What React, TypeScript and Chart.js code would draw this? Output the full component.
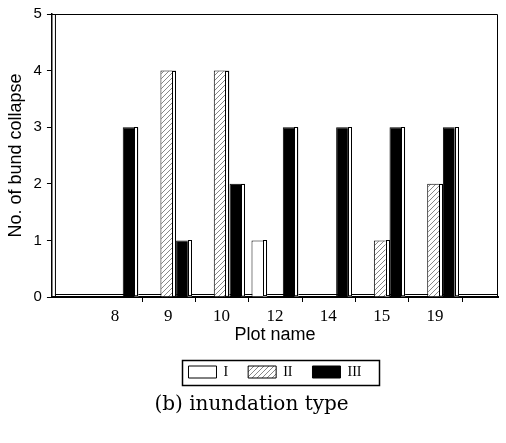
import React, { useEffect, useRef } from 'react';
import { Chart, registerables } from 'chart.js';

Chart.register(...registerables);

const plotNames = ['8', '9', '10', '12', '14', '15', '19'];
const typeI = [0, 0, 0, 1, 0, 0, 0];
const typeII = [0, 4, 4, 0, 0, 1, 2];
const typeIII = [3, 1, 2, 3, 3, 3, 3];
const seriesLabels = ['I', 'II', 'III'];
const yTickValues = [0, 1, 2, 3, 4, 5];

function makeHatch(): CanvasPattern | string {
  const c = document.createElement('canvas');
  c.width = 5;
  c.height = 5;
  const g = c.getContext('2d');
  if (!g) return '#ccc';
  g.fillStyle = '#ffffff';
  g.fillRect(0, 0, 5, 5);
  g.strokeStyle = '#888';
  g.lineWidth = 1;
  g.beginPath();
  g.moveTo(-1, 6);
  g.lineTo(6, -1);
  g.stroke();
  const p = g.createPattern(c, 'repeat');
  return p || '#ccc';
}

const framePlugin = {
  id: 'frame',
  beforeDatasetsDraw(chart: any) {
    const ctx = chart.ctx;
    const a = chart.chartArea;
    ctx.save();
    ctx.strokeStyle = '#000';
    ctx.lineWidth = 1;
    ctx.beginPath();
    ctx.moveTo(a.left + 3, Math.round(a.bottom - 3) + 0.5);
    ctx.lineTo(a.right, Math.round(a.bottom - 3) + 0.5);
    ctx.stroke();
    ctx.restore();
  },
  afterDatasetsDraw(chart: any) {
    const ctx = chart.ctx;
    const a = chart.chartArea;
    ctx.save();
    ctx.strokeStyle = '#000';
    ctx.lineWidth = 1;
    chart.data.datasets.forEach((_ds: any, di: number) => {
      const meta = chart.getDatasetMeta(di);
      meta.data.forEach((el: any) => {
        const { x, y, base, width } = el.getProps(['x', 'y', 'base', 'width'], true);
        if (Math.abs(base - y) < 0.5) return;
        const d = 4;
        const r = x + width / 2;
        ctx.fillStyle = '#fff';
        ctx.fillRect(r - d, y, d, base - y);
        ctx.strokeRect(Math.round(r - d) + 0.5, Math.round(y) + 0.5, d - 1, base - y - 1);
      });
    });
    ctx.beginPath();
    ctx.moveTo(a.left, a.top + 0.5);
    ctx.lineTo(a.right - 0.5, a.top + 0.5);
    ctx.lineTo(a.right - 0.5, a.bottom);
    ctx.stroke();
    ctx.beginPath();
    ctx.moveTo(a.left + 3.5, a.top);
    ctx.lineTo(a.left + 3.5, a.bottom);
    ctx.stroke();
    const xs = chart.scales.x;
    ctx.beginPath();
    for (let i = 0; i < plotNames.length; i++) {
      const px = Math.round(xs.getPixelForValue(i + 0.5)) + 0.5;
      ctx.moveTo(px, a.bottom);
      ctx.lineTo(px, a.bottom + 5);
    }
    ctx.stroke();
    ctx.restore();
  },
  afterDraw(chart: any) {
    const lg = chart.legend;
    if (!lg || !lg.legendHitBoxes || !lg.legendHitBoxes.length) return;
    const hb = lg.legendHitBoxes;
    let l = Infinity, r = -Infinity, t = Infinity, b = -Infinity;
    hb.forEach((h: any) => {
      l = Math.min(l, h.left);
      r = Math.max(r, h.left + h.width);
      t = Math.min(t, h.top);
      b = Math.max(b, h.top + h.height);
    });
    const ctx = chart.ctx;
    ctx.save();
    ctx.strokeStyle = '#000';
    ctx.lineWidth = 1.5;
    ctx.strokeRect(Math.round(l - 6) + 0.5, Math.round(t - 5) + 0.5, Math.round(r - l + 24), Math.round(b - t + 11));
    ctx.restore();
  },
};

export default function App() {
  const ref = useRef<HTMLCanvasElement>(null);

  useEffect(() => {
    if (!ref.current) return;
    const hatch = makeHatch();
    const toXY = (arr: number[]) => arr.map((v, i) => ({ x: i, y: v }));
    const chart = new Chart(ref.current, {
      type: 'bar',
      data: {
        datasets: [
          {
            label: seriesLabels[0],
            data: toXY(typeI) as any,
            backgroundColor: '#ffffff',
            borderColor: '#000',
            borderWidth: 1,
          },
          {
            label: seriesLabels[1],
            data: toXY(typeII) as any,
            backgroundColor: hatch as any,
            borderColor: '#000',
            borderWidth: 1,
          },
          {
            label: seriesLabels[2],
            data: toXY(typeIII) as any,
            backgroundColor: '#000000',
            borderColor: '#000',
            borderWidth: 1,
          },
        ],
      },
      options: {
        responsive: false,
        animation: false,
        events: [],
        datasets: { bar: { categoryPercentage: 0.88, barPercentage: 1 } },
        layout: { padding: { left: 5, right: 8, top: 1, bottom: 26 } },
        scales: {
          x: {
            type: 'linear',
            offset: false,
            min: -1.18,
            max: 7.18,
            afterBuildTicks: (s: any) => {
              s.ticks = plotNames.map((_n, i) => ({ value: i }));
            },
            ticks: {
              autoSkip: false,
              maxRotation: 0,
              padding: 9,
              color: '#000',
              font: { family: 'Liberation Serif', size: 17 },
              callback: (v: any) => plotNames[Math.round(Number(v))] ?? '',
            },
            grid: { display: false, drawTicks: false, tickLength: 0 },
            border: { display: true, color: '#000', width: 2 },
            title: {
              display: true,
              text: 'Plot name',
              color: '#000',
              font: { family: 'Liberation Sans', size: 18 },
              padding: { top: -11, bottom: -1 },
            },
          },
          y: {
            min: 0,
            max: 5,
            afterBuildTicks: (s: any) => {
              s.ticks = yTickValues.map((v) => ({ value: v }));
            },
            ticks: {
              padding: 5,
              color: '#000',
              font: { family: 'Liberation Sans', size: 15 },
            },
            grid: { drawOnChartArea: false, tickLength: 5, color: '#000' },
            border: { display: true, color: '#000', width: 1.5 },
            title: {
              display: true,
              text: 'No. of bund collapse',
              color: '#000',
              font: { family: 'Liberation Sans', size: 18 },
              padding: { top: 0, bottom: 2 },
            },
          },
        },
        plugins: {
          legend: {
            position: 'bottom',
            fullSize: false,
            labels: {
              color: '#000',
              boxWidth: 28,
              boxHeight: 12,
              padding: 20,
              font: { family: 'Liberation Serif', size: 14 },
            },
          },
          title: {
            display: true,
            position: 'bottom',
            text: '(b) inundation type',
            color: '#000',
            font: { family: 'DejaVu Serif', size: 20, weight: 'normal' },
            padding: { top: 4, bottom: 0 },
          },
          tooltip: { enabled: false },
        },
      },
      plugins: [framePlugin],
    });
    return () => chart.destroy();
  }, []);

  return (
    <div style={{ position: 'absolute', left: 0, top: 0, width: 506, height: 443, background: '#fff' }}>
      <canvas ref={ref} width={506} height={443} />
    </div>
  );
}
